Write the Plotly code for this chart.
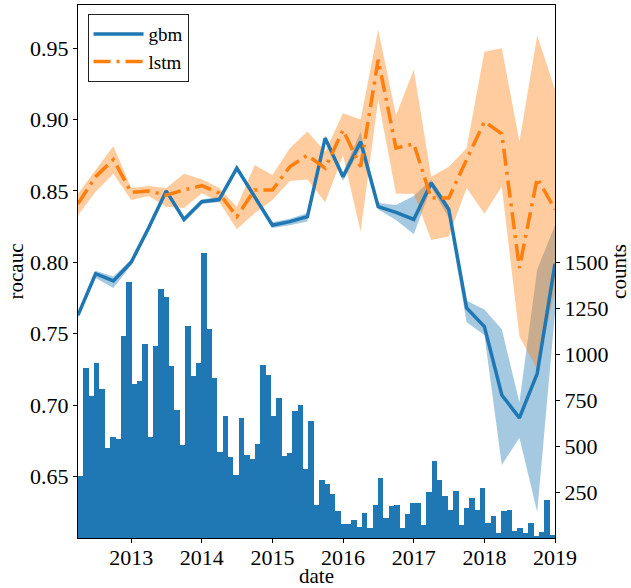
import numpy as np
import pandas as pd
import plotly.graph_objects as go

# ---------------- data ----------------
quarter_start = "2012-04-01"
n_quarters = 28
dates = pd.date_range(quarter_start, periods=n_quarters, freq="3MS")

gbm = [0.763, 0.792, 0.787, 0.800, 0.824, 0.850, 0.830, 0.8425, 0.844, 0.866,
       0.846, 0.826, 0.8285, 0.832, 0.887, 0.860, 0.8845, 0.839, 0.835, 0.830,
       0.8555, 0.837, 0.768, 0.755, 0.707, 0.691, 0.722, 0.799]
gbm_lo = [0.761, 0.789, 0.782, 0.798, 0.822, 0.848, 0.828, 0.841, 0.842, 0.864,
          0.844, 0.824, 0.826, 0.8285, 0.885, 0.857, 0.880, 0.837, 0.8297, 0.8197,
          0.8526, 0.831, 0.758, 0.749, 0.658, 0.677, 0.625, 0.765]
gbm_hi = [0.765, 0.794, 0.790, 0.802, 0.826, 0.851, 0.832, 0.844, 0.846, 0.868,
          0.848, 0.828, 0.8305, 0.8345, 0.889, 0.863, 0.8915, 0.8415, 0.8402, 0.8465,
          0.858, 0.840, 0.773, 0.767, 0.753, 0.702, 0.795, 0.826]

lstm = [0.841, 0.860, 0.872, 0.849, 0.850, 0.847, 0.8507, 0.8537, 0.8484, 0.832,
        0.8507, 0.8507, 0.867, 0.875, 0.866, 0.8927, 0.867, 0.942, 0.880, 0.883,
        0.845, 0.845, 0.872, 0.8986, 0.890, 0.796, 0.859, 0.837]
lstm_lo = [0.833, 0.8495, 0.862, 0.8437, 0.8465, 0.839, 0.838, 0.8484, 0.8425, 0.8232,
           0.8344, 0.8437, 0.857, 0.858, 0.842, 0.875, 0.8215, 0.914, 0.848, 0.848,
           0.8157, 0.818, 0.852, 0.834, 0.853, 0.748, 0.725, 0.780]
lstm_hi = [0.848, 0.8647, 0.8815, 0.852, 0.8535, 0.852, 0.862, 0.8582, 0.852, 0.839,
           0.8682, 0.8612, 0.880, 0.8916, 0.8775, 0.9045, 0.900, 0.963, 0.903, 0.935,
           0.860, 0.867, 0.880, 0.9476, 0.950, 0.8845, 0.959, 0.921]

hist_start = "2012-04-01"
hist_end = "2019-01-01"
counts = [338, 924, 773, 951, 810, 489, 549, 538, 1098, 1391,
          837, 853, 1054, 549, 1043, 1353, 1310, 935, 696, 505,
          1152, 882, 951, 1549, 1136, 870, 469, 663, 440, 342,
          652, 451, 429, 511, 940, 886, 663, 761, 446, 462,
          690, 723, 375, 636, 179, 315, 293, 239, 147, 76,
          76, 98, 60, 136, 54, 179, 326, 109, 174, 179,
          54, 130, 190, 190, 71, 250, 418, 315, 228, 152,
          255, 71, 163, 217, 152, 272, 82, 120, 27, 147,
          152, 38, 54, 27, 82, 8, 33, 207, 16]

year_ticks = [2013, 2014, 2015, 2016, 2017, 2018, 2019]
rocauc_ticks = [0.65, 0.70, 0.75, 0.80, 0.85, 0.90, 0.95]
count_ticks = [250, 500, 750, 1000, 1250, 1500]

# ---------------- derived ----------------
t0 = pd.Timestamp(hist_start).value
t1 = pd.Timestamp(hist_end).value
edges = np.linspace(t0, t1, len(counts) + 1)
centers = pd.to_datetime((edges[:-1] + edges[1:]) / 2)
width_ms = (edges[1] - edges[0]) / 1e6

BLUE = "#1f77b4"
ORANGE = "#ff7f0e"
FONT = "Liberation Serif"

fig = go.Figure()

# bands
for lo, hi, col in [(gbm_lo, gbm_hi, "rgba(31,119,180,0.4)"),
                    (lstm_lo, lstm_hi, "rgba(255,127,14,0.4)")]:
    fig.add_trace(go.Scatter(x=dates, y=hi, mode="lines", line=dict(width=0),
                             showlegend=False, hoverinfo="skip"))
    fig.add_trace(go.Scatter(x=dates, y=lo, mode="lines", line=dict(width=0),
                             fill="tonexty", fillcolor=col,
                             showlegend=False, hoverinfo="skip"))

fig.add_trace(go.Scatter(x=dates, y=gbm, mode="lines", name="gbm",
                         line=dict(color=BLUE, width=3.5)))
fig.add_trace(go.Scatter(x=dates, y=lstm, mode="lines", name="lstm",
                         line=dict(color=ORANGE, width=3.5, dash="17px,6px,3px,6px")))

fig.add_trace(go.Bar(x=centers, y=counts, width=width_ms, yaxis="y2",
                     marker=dict(color=BLUE, line=dict(width=0)),
                     showlegend=False))

tickfont = dict(family=FONT, size=22, color="black")

fig.update_layout(
    width=631, height=588,
    margin=dict(l=78, r=76, t=5, b=50, autoexpand=False),
    paper_bgcolor="white", plot_bgcolor="white",
    font=dict(family=FONT, size=21, color="black"),
    bargap=0,
    showlegend=True,
    legend=dict(x=0.02, y=0.983, xanchor="left", yanchor="top",
                traceorder="normal", itemwidth=50,
                bgcolor="white", bordercolor="#222", borderwidth=1,
                font=dict(family=FONT, size=19, color="black")),
    xaxis=dict(
        type="date", automargin=False,
        range=[hist_start, hist_end],
        tickvals=[f"{y}-01-01" for y in year_ticks],
        ticktext=[str(y) for y in year_ticks],
        tickfont=tickfont, ticklabelstandoff=-4,
        ticks="outside", ticklen=4, tickcolor="black",
        showline=True, linecolor="black", linewidth=1, mirror=True,
        showgrid=False, zeroline=False,
        title=dict(text="date", font=dict(family=FONT, size=21), standoff=4),
    ),
    yaxis=dict(
        automargin=False,
        range=[0.6068, 0.9803],
        tickvals=rocauc_ticks,
        ticktext=[f"{v:.2f}" for v in rocauc_ticks],
        tickfont=tickfont,
        ticks="outside", ticklen=4, tickcolor="black",
        showline=True, linecolor="black", linewidth=1,
        showgrid=False, zeroline=False,
        title=dict(text="rocauc", font=dict(family=FONT, size=21), standoff=0),
    ),
    yaxis2=dict(
        automargin=False,
        overlaying="y", side="right",
        range=[0, 2900],
        tickvals=count_ticks,
        ticktext=[str(v) for v in count_ticks],
        tickfont=tickfont,
        ticks="outside", ticklen=4, tickcolor="black",
        showline=True, linecolor="black", linewidth=1,
        showgrid=False, zeroline=False,
        title=dict(text="counts", font=dict(family=FONT, size=21), standoff=4),
    ),
)

fig.write_html("out.html", config={"displayModeBar": False},
               post_script="document.body.style.margin='0';document.body.style.padding='0';")
